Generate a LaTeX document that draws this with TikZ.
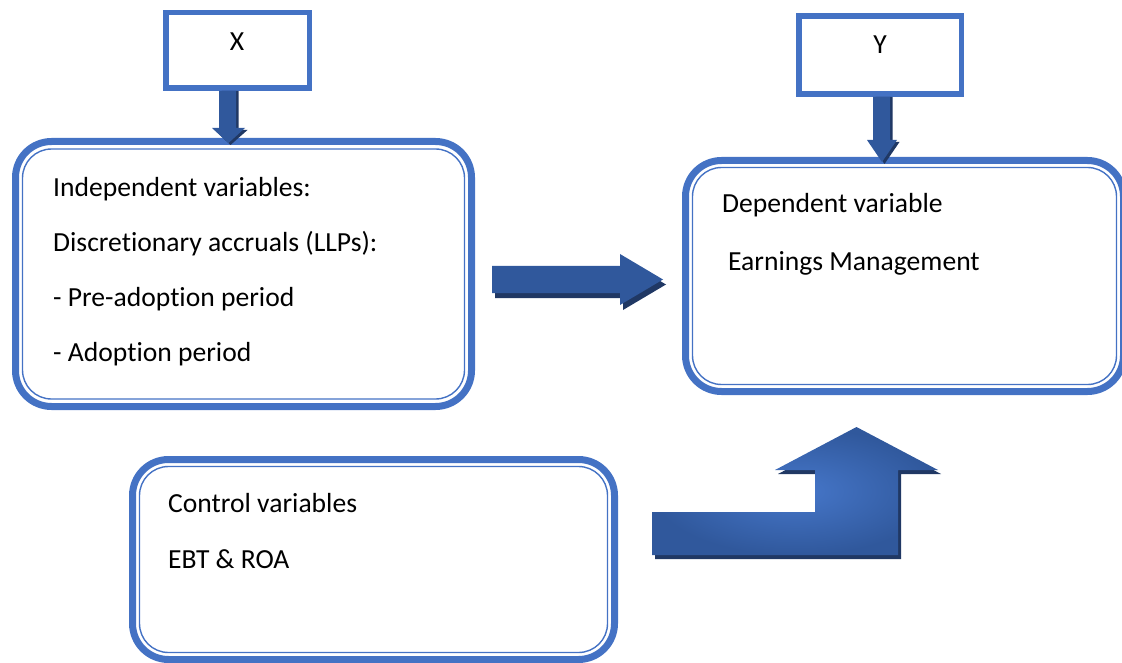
\documentclass[tikz,border=0pt]{standalone}
\usepackage{fontspec}
\setmainfont{Carlito}[Ligatures={NoCommon}]
\usetikzlibrary{calc}
\definecolor{boxblue}{HTML}{4472C4}
\definecolor{arrdark}{HTML}{30589C}
\definecolor{arrlight}{HTML}{4677CA}
\definecolor{arrshadow}{HTML}{203864}
\tikzset{
  bigframe/.style={draw=boxblue, line width=7pt, rounded corners=36pt, inner sep=0pt, outer sep=0pt},
  thinframe/.style={draw=boxblue, line width=1.4pt, rounded corners=29pt},
  labelbox/.style={draw=boxblue, line width=5.5pt, inner sep=0pt, outer sep=0pt},
  txt/.style={font=\fontsize{27.6}{32}\selectfont, inner sep=0pt, anchor=base west},
  lbl/.style={font=\fontsize{27.6}{32}\selectfont, inner sep=0pt, anchor=base},
  blockshadow/.style={fill=arrshadow},
  vshade/.style={left color=arrdark, middle color=arrlight, right color=arrdark},
  hshade/.style={left color=arrdark, middle color=arrlight, right color=arrdark},
  rshade/.style={inner color=arrlight, outer color=arrdark},
}
\begin{document}
\begin{tikzpicture}[x=1pt,y=-1pt]
\useasboundingbox (0,0) rectangle (1122,663);
\begin{scope}
\clip (0,0) rectangle (1122,663);
% label boxes
\node[labelbox, minimum width=143.5pt, minimum height=75.5pt] (X) at (237.5,50.5) {};
\node[labelbox, minimum width=162.5pt, minimum height=78pt] (Y) at (880,55) {};
\node[lbl] (Xt) at (237,50.5) {X};
\node[lbl] (Yt) at (880,54) {Y};
% big boxes
\node[bigframe, minimum width=456pt, minimum height=265pt] (L) at (243.5,274) {};
\draw[thinframe] ($(L.north west)+(7,7.5)$) rectangle ($(L.south east)+(-7,-7.5)$);
\node[bigframe, minimum width=438pt, minimum height=231pt] (R) at (904.5,276) {};
\draw[thinframe] ($(R.north west)+(7,7)$) rectangle ($(R.south east)+(-7,-7)$);
\node[bigframe, minimum width=482pt, minimum height=200pt] (C) at (373.5,559.5) {};
\draw[thinframe] ($(C.north west)+(7,7)$) rectangle ($(C.south east)+(-7,-7)$);
% texts
\node[txt] (l1) at (53,197) {Independent variables:};
\node[txt] (l2) at (53,251.7) {Discretionary accruals (LLPs):};
\node[txt] (l3) at (53,306.3) {- Pre-adoption period};
\node[txt] (l4) at (53,361) {- Adoption period};
\node[txt] (r1) at (722,213) {Dependent variable};
\node[txt] (r2) at (728,270) {Earnings Management};
\node[txt] (c1) at (168,512) {Control variables};
\node[txt] (c2) at (168,568) {EBT \& ROA};
% down arrow X -> L
\fill[blockshadow] (221.5,91) -- (238.5,91) -- (238.5,130) -- (247.5,130) -- (230.5,145) -- (214.5,130) -- (221.5,130) -- cycle;
\shade[vshade] (219,91) -- (236,91) -- (236,128) -- (245,128) -- (228.5,143) -- (212,128) -- (219,128) -- cycle;
% down arrow Y -> R
\fill[blockshadow] (875.5,97) -- (892.5,97) -- (892.5,142) -- (899.5,142) -- (884.5,164) -- (869.5,142) -- (875.5,142) -- cycle;
\shade[vshade] (873,97) -- (890,97) -- (890,140) -- (897,140) -- (882,162) -- (867,140) -- (873,140) -- cycle;
% right arrow L -> R
\fill[blockshadow] (495,271) -- (623,271) -- (623,259) -- (666,284.5) -- (623,310) -- (623,298) -- (495,298) -- cycle;
\shade[hshade] (492,266) -- (620,266) -- (620,254) -- (663,279.5) -- (620,305) -- (620,293) -- (492,293) -- cycle;
% bent arrow C -> R
\fill[blockshadow] (655,516) -- (818,516) -- (818,474) -- (778,474) -- (859.5,431) -- (941,474) -- (901,474) -- (901,559) -- (655,559) -- cycle;
\shade[rshade] (652,512) -- (815,512) -- (815,470) -- (775,470) -- (856.5,427) -- (938,470) -- (898,470) -- (898,555) -- (652,555) -- cycle;
\end{scope}
\end{tikzpicture}
\end{document}
